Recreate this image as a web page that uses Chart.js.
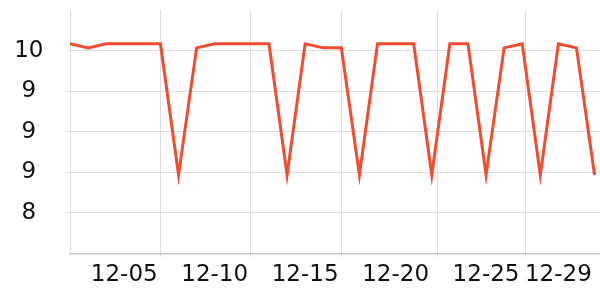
<!DOCTYPE html>
<html lang="en">
<head>
  <meta charset="UTF-8" />
  <title>Daily values</title>
  <style>
    body { margin: 0; background: #fff; }
    #wrap { width: 600px; height: 300px; }
  </style>
</head>
<body>
  <div id="wrap"><canvas id="chart"></canvas></div>

  <script src="https://cdn.jsdelivr.net/npm/chart.js"></script>
  <script>
    // dates 12-02 .. 12-31
    const dates = ['12-02','12-03','12-04','12-05','12-06','12-07','12-08','12-09','12-10','12-11',
                   '12-12','12-13','12-14','12-15','12-16','12-17','12-18','12-19','12-20','12-21',
                   '12-22','12-23','12-24','12-25','12-26','12-27','12-28','12-29','12-30','12-31'];
    const values = [10.05, 10.02, 10.05, 10.05, 10.05, 10.05, 9.08, 10.02, 10.05, 10.05,
                    10.05, 10.05, 9.08, 10.05, 10.02, 10.02, 9.08, 10.05, 10.05, 10.05,
                    9.08, 10.05, 10.05, 9.08, 10.02, 10.05, 9.08, 10.05, 10.02, 9.08];
    const shownLabels = ['12-05', '12-10', '12-15', '12-20', '12-25', '12-29'];
    const gridAt = [5, 10, 15, 20.3, 25.2];
    const yTicks = [8.5, 8.8, 9.1, 9.4, 9.7, 10.0, 10.3];

    const points = dates.map((d, i) => ({ x: i, y: values[i] }));
    const font = { family: 'DejaVu Sans', size: 23 };
    const gridColor = '#dcdcdc';
    const none = 'rgba(0,0,0,0)';

    // x ticks: label ticks (no grid) + grid ticks (no label)
    const xTicks = shownLabels.map(l => ({ value: dates.indexOf(l), label: l }))
      .concat(gridAt.map(v => ({ value: v, label: '' })));

    new Chart(document.getElementById('chart'), {
      type: 'line',
      data: {
        datasets: [{
          data: points,
          borderColor: '#f24b2e',
          borderWidth: 3,
          pointRadius: 0,
          tension: 0,
          fill: false
        }]
      },
      options: {
        responsive: true,
        maintainAspectRatio: false,
        animation: false,
        layout: { padding: { top: 10, right: 0, left: 0, bottom: 6 } },
        plugins: { legend: { display: false }, tooltip: { enabled: false } },
        scales: {
          x: {
            type: 'linear', min: 0, max: 29.3,
            afterBuildTicks: axis => { axis.ticks = xTicks.map(t => ({ value: t.value })); },
            ticks: {
              font, color: '#111', maxRotation: 0, autoSkip: false, padding: 5,
              callback: (v, i) => xTicks[i].label
            },
            grid: {
              tickLength: 3,
              color: ctx => xTicks[ctx.index] && xTicks[ctx.index].label ? none : gridColor,
              tickColor: ctx => xTicks[ctx.index] && xTicks[ctx.index].label ? none : '#c8c8c8'
            },
            border: { color: '#c8c8c8', width: 1.5 }
          },
          y: {
            min: 8.5, max: 10.3,
            afterFit: axis => { axis.width = 70; axis.paddingTop = 0; axis.paddingBottom = 0; },
            afterBuildTicks: axis => { axis.ticks = yTicks.map(v => ({ value: v })); },
            ticks: {
              font, color: '#111', crossAlign: 'center', padding: 23.5,
              callback: (v, i) => (i === 0 || i === yTicks.length - 1) ? '' : String(Math.floor(v + 1e-6))
            },
            grid: {
              tickLength: 3,
              color: ctx => (ctx.index === 0 || ctx.index === yTicks.length - 1) ? none : gridColor
            },
            border: { color: gridColor }
          }
        }
      }
    });
  </script>
</body>
</html>
